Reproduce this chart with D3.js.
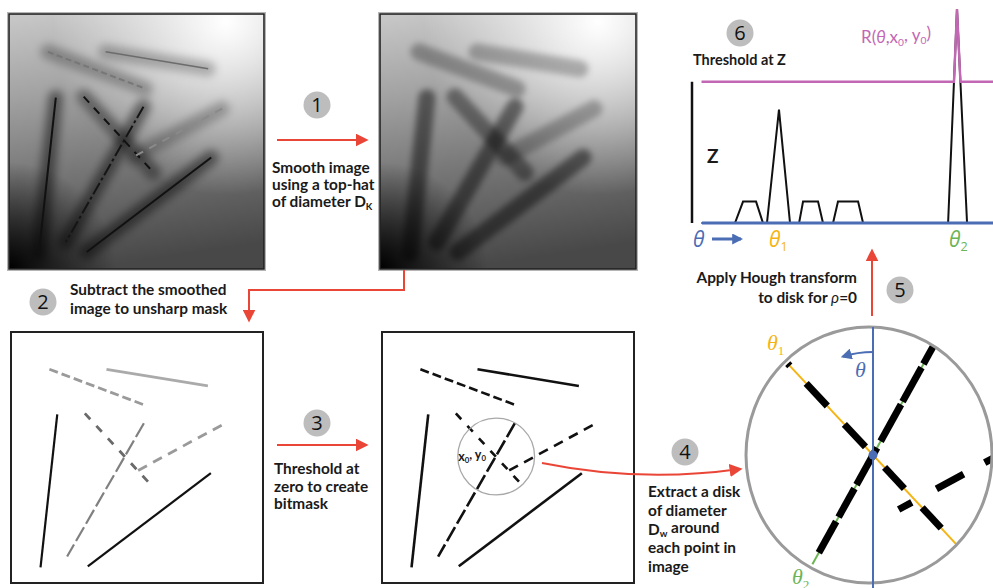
<!DOCTYPE html>
<html>
<head>
<meta charset="utf-8">
<script src="https://cdn.jsdelivr.net/npm/d3@7"></script>
<style>
  html, body { margin: 0; padding: 0; background: #fff; }
  svg { display: block; }
  .lbl { font-family: Lato, "Open Sans", sans-serif; font-weight: 700; font-size: 15.4px; fill: #1a1a1a; }
  .num { font-family: "Open Sans", sans-serif; font-size: 20px; fill: #111; }
</style>
</head>
<body>
<svg id="fig" width="993" height="588"></svg>
<script>
// ---- Data -------------------------------------------------------------
// Micrograph is imgSize x imgSize pixels; filaments as [x1, y1, x2, y2] in image pixels
const imgSize = 256;
const filamentEnds = [
  [97, 38, 200, 55],
  [39, 38, 137, 75],
  [47, 84, 30, 240],
  [75, 83, 145, 159],
  [135, 93, 57, 229],
  [214, 95, 124, 144],
  [203, 144, 78, 239]
];
// relative filament contrast (1 = strongest)
const filamentContrast = [0.55, 0.6, 1, 0.85, 1, 0.55, 1];

// sampled disk around (x0, y0), image pixels
const diskCenter = [116, 127];
const diskDiameter = 78;

// Hough response for rho = 0 over theta (degrees)
const houghTheta = [-4, 16.3, 21.2, 29.1, 33.3, 35.7, 43, 49.7, 55.2, 57.6, 66.7, 69.7, 75.8, 78.8, 91, 94, 145.6, 151, 157.1, 176];
const houghR     = [0, 0, 10, 10, 0, 0, 53, 0, 0, 10, 10, 0, 0, 10, 10, 0, 0, 100, 0, 0];
const thresholdZ = 66;
const theta1 = 43;
const theta2 = 151;

// foreground runs inside the disk along theta1 / theta2 (fractions of disk radius)
const runsTheta1 = [[0.976, 1], [0.536, 0.784], [0.088, 0.336], [-0.368, -0.136], [-0.8, -0.576]];
const runsTheta2 = [[-1, -0.832], [-0.8, -0.488], [-0.462, -0.126], [-0.066, 0.272], [0.306, 0.568], [0.608, 0.894]];

// ---- Styling ------------------------------------------------------------
const RED = '#ea4637', BLUE = '#4b6db4', PINK = '#c267b4', GOLD = '#f4b414', GREEN = '#6cb455', BADGE = '#bdbdbd';
const rawStroke = ['#6c6c6c', '#777', '#111', '#111', '#151515', '#8a8a8a', '#111'];
const rawDash   = [null, '6 3.5', null, '8 7', '13 3 3 3', '8 7', null];
const maskStroke = ['#aaa', '#9a9a9a', '#111', '#6a6a6a', '#808080', '#9a9a9a', '#111'];
const maskDash   = [null, '9 4', null, '8 9', '16 4', '10 7', null];

const svg = d3.select('#fig');
const defs = svg.append('defs');

// background illumination of the micrograph
const lin = defs.append('linearGradient').attr('id', 'bgLin')
  .attr('x1', 0.15).attr('y1', 0).attr('x2', 0.3).attr('y2', 1);
[[0, '#c6c6c6'], [0.3, '#a2a2a2'], [0.62, '#767676'], [1, '#484848']]
  .forEach(([o, c]) => lin.append('stop').attr('offset', o).attr('stop-color', c));
const hi = defs.append('radialGradient').attr('id', 'bgHi')
  .attr('cx', 0.85).attr('cy', 0.03).attr('r', 0.68);
hi.append('stop').attr('offset', 0).attr('stop-color', '#fff').attr('stop-opacity', 1);
hi.append('stop').attr('offset', 0.35).attr('stop-color', '#fff').attr('stop-opacity', 0.65);
hi.append('stop').attr('offset', 1).attr('stop-color', '#fff').attr('stop-opacity', 0);
const lo = defs.append('radialGradient').attr('id', 'bgLo')
  .attr('cx', 0).attr('cy', 1).attr('r', 0.42);
lo.append('stop').attr('offset', 0).attr('stop-color', '#000').attr('stop-opacity', 1);
lo.append('stop').attr('offset', 0.45).attr('stop-color', '#000').attr('stop-opacity', 0.55);
lo.append('stop').attr('offset', 1).attr('stop-color', '#000').attr('stop-opacity', 0);

function blurFilter(id, sd) {
  defs.append('filter').attr('id', id)
    .attr('filterUnits', 'userSpaceOnUse')
    .attr('x', 0).attr('y', 0).attr('width', 993).attr('height', 588)
    .append('feGaussianBlur').attr('stdDeviation', sd);
}
blurFilter('halo', 4);
blurFilter('smooth', 3);

function arrowMarker(id, color, len, wid) {
  defs.append('marker').attr('id', id)
    .attr('markerUnits', 'userSpaceOnUse')
    .attr('viewBox', '0 0 10 10').attr('refX', 8).attr('refY', 5)
    .attr('markerWidth', len).attr('markerHeight', wid)
    .attr('orient', 'auto')
    .append('path').attr('d', 'M0,0 L10,5 L0,10 Z').attr('fill', color);
}
arrowMarker('arrRed', RED, 13, 13);
arrowMarker('arrBlue', BLUE, 11, 11);

// ---- helpers ------------------------------------------------------------
function panelScales(x, y, w, h) {
  return {
    sx: d3.scaleLinear().domain([0, imgSize]).range([x, x + w]),
    sy: d3.scaleLinear().domain([0, imgSize]).range([y, y + h])
  };
}

function clipRect(id, x, y, w, h) {
  defs.append('clipPath').attr('id', id).append('rect')
    .attr('x', x).attr('y', y).attr('width', w).attr('height', h);
}

function filamentLines(g, cls, sx, sy) {
  return g.selectAll('line.' + cls).data(filamentEnds).join('line')
    .attr('class', cls)
    .attr('x1', d => sx(d[0])).attr('y1', d => sy(d[1]))
    .attr('x2', d => sx(d[2])).attr('y2', d => sy(d[3]));
}

function micrograph(id, x, y, w, h, smooth) {
  const { sx, sy } = panelScales(x, y, w, h);
  clipRect('clip-' + id, x, y, w, h);
  const g = svg.append('g').attr('clip-path', `url(#clip-${id})`);
  ['bgLin', 'bgHi', 'bgLo'].forEach(f =>
    g.append('rect').attr('x', x).attr('y', y).attr('width', w).attr('height', h).attr('fill', `url(#${f})`));
  if (smooth) {
    filamentLines(g, 'blob', sx, sy)
      .attr('stroke', '#000').attr('stroke-width', 17).attr('stroke-linecap', 'round')
      .attr('stroke-opacity', (d, i) => 0.47 * filamentContrast[i])
      .attr('filter', 'url(#smooth)');
  } else {
    filamentLines(g, 'halo', sx, sy)
      .attr('stroke', '#000').attr('stroke-width', 15).attr('stroke-linecap', 'round')
      .attr('stroke-opacity', (d, i) => 0.45 * filamentContrast[i])
      .attr('filter', 'url(#halo)');
    filamentLines(g, 'fil', sx, sy)
      .attr('stroke', (d, i) => rawStroke[i])
      .attr('stroke-width', (d, i) => (i === 0 ? 1.5 : 2))
      .attr('stroke-dasharray', (d, i) => rawDash[i]);
  }
  svg.append('rect').attr('x', x - 1.5).attr('y', y - 1.5).attr('width', w + 3).attr('height', h + 3)
    .attr('fill', 'none').attr('stroke', '#b5b5b5').attr('stroke-width', 1);
  svg.append('rect').attr('x', x).attr('y', y).attr('width', w).attr('height', h)
    .attr('fill', 'none').attr('stroke', '#222').attr('stroke-width', 1.6);
}

function maskPanel(id, x, y, w, h, binary) {
  const { sx, sy } = panelScales(x, y, w, h);
  clipRect('clip-' + id, x, y, w, h);
  const g = svg.append('g').attr('clip-path', `url(#clip-${id})`);
  g.append('rect').attr('x', x).attr('y', y).attr('width', w).attr('height', h).attr('fill', '#fff');
  filamentLines(g, 'fil', sx, sy)
    .attr('stroke', (d, i) => binary ? '#111' : maskStroke[i])
    .attr('stroke-width', (d, i) => binary ? 2.6 : (filamentContrast[i] === 1 ? 2.2 : 2.8))
    .attr('stroke-dasharray', (d, i) => maskDash[i]);
  svg.append('rect').attr('x', x).attr('y', y).attr('width', w).attr('height', h)
    .attr('fill', 'none').attr('stroke', '#222').attr('stroke-width', 2);
  return { sx, sy };
}

function badge(cx, cy, n) {
  svg.append('circle').attr('cx', cx).attr('cy', cy).attr('r', 13.5).attr('fill', BADGE);
  svg.append('text').attr('class', 'num').attr('x', cx).attr('y', cy + 7)
    .attr('text-anchor', 'middle').text(n);
}

// parts: array of [string, isSubscript]
function richText(x, y, parts, cls, anchor) {
  const t = svg.append('text').attr('class', cls || 'lbl').attr('x', x).attr('y', y)
    .attr('text-anchor', anchor || 'start');
  parts.forEach(([s, sub]) => {
    const sp = t.append('tspan').text(s);
    if (sub) sp.attr('font-size', '0.62em').attr('dy', '0.28em');
    else sp.attr('dy', t.selectAll('tspan').size() > 1 ? '-0.28em' : 0);
  });
  return t;
}
function lines(x, y0, dy, rows, anchor) {
  rows.forEach((r, i) => richText(x, y0 + i * dy, Array.isArray(r) ? r : [[r, false]], 'lbl', anchor));
}

// ---- Panels -------------------------------------------------------------
micrograph('raw', 9, 14, 255, 255, false);
micrograph('smooth', 380, 14, 256, 255, true);
maskPanel('unsharp', 11, 332, 252, 251, false);
const bm = maskPanel('bitmask', 382, 332, 252, 251, true);

// disk around (x0, y0) in the bitmask
const diskR = diskDiameter / 2;
svg.append('circle')
  .attr('cx', bm.sx(diskCenter[0])).attr('cy', bm.sy(diskCenter[1]))
  .attr('r', bm.sx(diskR) - bm.sx(0))
  .attr('fill', 'none').attr('stroke', '#a8a8a8').attr('stroke-width', 1.3);
richText(bm.sx(diskCenter[0]) - 38, bm.sy(diskCenter[1]) + 4,
  [['x', false], ['0', true], [', y', false], ['0', true]], 'lbl').style('font-size', '12.5px');

// ---- Step arrows & captions --------------------------------------------
badge(317, 105, '1');
svg.append('line').attr('x1', 277).attr('y1', 140).attr('x2', 366).attr('y2', 140)
  .attr('stroke', RED).attr('stroke-width', 2).attr('marker-end', 'url(#arrRed)');
lines(272, 173, 17, ['Smooth image', 'using a top-hat', [['of diameter D', false], ['K', true]]]);

badge(43, 302, '2');
svg.append('path').attr('d', 'M404,270 V290 H249 V320').attr('fill', 'none')
  .attr('stroke', RED).attr('stroke-width', 2).attr('marker-end', 'url(#arrRed)');
lines(70, 295, 18.5, ['Subtract the smoothed', 'image to unsharp mask']);

badge(317, 423, '3');
svg.append('line').attr('x1', 277).attr('y1', 445).attr('x2', 366).attr('y2', 445)
  .attr('stroke', RED).attr('stroke-width', 2).attr('marker-end', 'url(#arrRed)');
lines(274, 474, 17.5, ['Threshold at', 'zero to create', 'bitmask']);

badge(685, 452, '4');
svg.append('path').attr('d', 'M542,463 Q640,483 740,469').attr('fill', 'none')
  .attr('stroke', RED).attr('stroke-width', 2).attr('marker-end', 'url(#arrRed)');
lines(648, 497, 18.8, ['Extract a disk', 'of diameter', [['D', false], ['w', true], [' around', false]], 'each point in', 'image']);

badge(900, 290, '5');
svg.append('line').attr('x1', 872).attr('y1', 316).attr('x2', 872).attr('y2', 251)
  .attr('stroke', RED).attr('stroke-width', 2).attr('marker-end', 'url(#arrRed)');
lines(857, 283, 20, ['Apply Hough transform'], 'end');
const t5 = svg.append('text').attr('class', 'lbl').attr('x', 857).attr('y', 303).attr('text-anchor', 'end');
t5.append('tspan').text('to disk for ');
t5.append('tspan').text('ρ').attr('font-style', 'italic').attr('font-weight', 400);
t5.append('tspan').text('=0');

// ---- Magnified disk with Hough lines -------------------------------------
const magC = [873, 455];       // centre of the sampled point in the magnified view
const magR = 125;              // magnified disk radius in px
const ring = { cx: 869, cy: 455, rx: 123, ry: 128 };
const mag = d3.scaleLinear().domain([0, 1]).range([0, magR]);
defs.append('clipPath').attr('id', 'clip-disk').append('ellipse')
  .attr('cx', ring.cx).attr('cy', ring.cy).attr('rx', ring.rx).attr('ry', ring.ry);
const gd = svg.append('g').attr('clip-path', 'url(#clip-disk)');

function pt(theta, t) {
  const a = theta * Math.PI / 180;
  return [magC[0] - Math.sin(a) * mag(t), magC[1] - Math.cos(a) * mag(t)];
}
[[theta1, GOLD, runsTheta1], [theta2, GREEN, runsTheta2]].forEach(([th, col, runs]) => {
  const a = pt(th, -1), b = pt(th, 1);
  gd.append('line').attr('x1', a[0]).attr('y1', a[1]).attr('x2', b[0]).attr('y2', b[1])
    .attr('stroke', col).attr('stroke-width', 2);
  gd.selectAll(null).data(runs).join('line')
    .attr('x1', d => pt(th, d[0])[0]).attr('y1', d => pt(th, d[0])[1])
    .attr('x2', d => pt(th, d[1])[0]).attr('y2', d => pt(th, d[1])[1])
    .attr('stroke', '#000').attr('stroke-width', 7);
});
// neighbouring filament crossing the disk, magnified from image coordinates
const mx = d3.scaleLinear().domain([diskCenter[0] - diskR, diskCenter[0] + diskR]).range([magC[0] - magR, magC[0] + magR]);
const my = d3.scaleLinear().domain([diskCenter[1] - diskR, diskCenter[1] + diskR]).range([magC[1] - magR, magC[1] + magR]);
const f6 = filamentEnds[5];
gd.append('line')
  .attr('x1', mx(f6[2])).attr('y1', my(f6[3]))
  .attr('x2', mx(f6[0])).attr('y2', my(f6[1]))
  .attr('stroke', '#000').attr('stroke-width', 7)
  .attr('stroke-dasharray', '15 28 31 24 40 30');

svg.append('ellipse').attr('cx', ring.cx).attr('cy', ring.cy).attr('rx', ring.rx).attr('ry', ring.ry)
  .attr('fill', 'none').attr('stroke', '#9a9a9a').attr('stroke-width', 3);
svg.append('line').attr('x1', magC[0]).attr('y1', ring.cy - ring.ry).attr('x2', magC[0]).attr('y2', 588)
  .attr('stroke', BLUE).attr('stroke-width', 2);
svg.append('circle').attr('cx', magC[0]).attr('cy', magC[1]).attr('r', 4.5).attr('fill', BLUE);
// rotation direction of theta
const arcR = 103, arcEnd = 17 * Math.PI / 180;
svg.append('path')
  .attr('d', `M${magC[0]},${magC[1] - arcR} A${arcR},${arcR} 0 0 0 ${magC[0] - arcR * Math.sin(arcEnd)},${magC[1] - arcR * Math.cos(arcEnd)}`)
  .attr('fill', 'none').attr('stroke', BLUE).attr('stroke-width', 2).attr('marker-end', 'url(#arrBlue)');

function thetaLabel(x, y, sub, color, size, serif) {
  const t = svg.append('text').attr('x', x).attr('y', y)
    .attr('fill', color).style('font-size', size + 'px').style('font-style', 'italic')
    .style('font-family', serif ? '"Liberation Serif", "DejaVu Serif", serif' : '"Open Sans", sans-serif');
  t.append('tspan').text('θ');
  if (sub) t.append('tspan').text(sub).attr('font-size', '0.6em').attr('dy', '0.35em').style('font-style', 'normal');
  return t;
}
thetaLabel(855, 377, null, BLUE, 22, true);
thetaLabel(767, 350, '1', GOLD, 22, true);
thetaLabel(792, 584, '2', GREEN, 22, true);

// ---- Hough response plot ------------------------------------------------
const px = d3.scaleLinear().domain([0, 180]).range([708.1, 1004.8]);
const py = d3.scaleLinear().domain([0, 100]).range([223, 9]);
const resp = houghTheta.map((t, i) => [t, houghR[i]]);
// response clipped from below at Z, with exact threshold crossings
const thresh = [];
resp.forEach((p, i) => {
  if (i > 0) {
    const q = resp[i - 1];
    if ((q[1] - thresholdZ) * (p[1] - thresholdZ) < 0) {
      const f = (thresholdZ - q[1]) / (p[1] - q[1]);
      thresh.push([q[0] + f * (p[0] - q[0]), thresholdZ]);
    }
  }
  thresh.push([p[0], Math.max(p[1], thresholdZ)]);
});
const lineGen = d3.line().x(d => px(d[0])).y(d => py(d[1]));
svg.append('path').attr('d', lineGen(resp)).attr('fill', 'none')
  .attr('stroke', '#111').attr('stroke-width', 2).attr('stroke-linejoin', 'miter');
svg.append('line').attr('x1', 702).attr('y1', py(0)).attr('x2', 993).attr('y2', py(0))
  .attr('stroke', BLUE).attr('stroke-width', 3);
svg.append('path').attr('d', lineGen(thresh)).attr('fill', 'none')
  .attr('stroke', PINK).attr('stroke-width', 2.4);
// bar showing the threshold height Z
svg.append('line').attr('x1', 692).attr('y1', py(0)).attr('x2', 692).attr('y2', py(thresholdZ))
  .attr('stroke', '#111').attr('stroke-width', 2.5);
svg.append('text').attr('class', 'lbl').attr('x', 707).attr('y', 163).style('font-size', '19px').text('Z');

badge(740, 33, '6');
svg.append('text').attr('class', 'lbl').attr('x', 693).attr('y', 65).style('font-size', '14.5px').text('Threshold at Z');
const rl = svg.append('text').attr('x', 861).attr('y', 43).attr('fill', PINK)
  .style('font-family', 'Lato, "Open Sans", sans-serif').style('font-size', '17px');
rl.append('tspan').text('R(');
rl.append('tspan').text('θ').style('font-style', 'italic');
rl.append('tspan').text(',x');
rl.append('tspan').text('0').attr('font-size', '0.6em').attr('dy', '0.3em');
rl.append('tspan').text(', y').attr('dy', '-0.3em');
rl.append('tspan').text('0').attr('font-size', '0.6em').attr('dy', '0.3em');
rl.append('tspan').text(')').attr('dy', '-0.3em');

// theta axis labels
thetaLabel(693, 247, null, BLUE, 21, false);
svg.append('line').attr('x1', 712).attr('y1', 239).attr('x2', 741).attr('y2', 239)
  .attr('stroke', BLUE).attr('stroke-width', 3).attr('marker-end', 'url(#arrBlue)');
thetaLabel(px(theta1) - 10, 247, '1', GOLD, 21, false);
thetaLabel(px(theta2) - 8, 247, '2', GREEN, 21, false);
</script>
</body>
</html>
